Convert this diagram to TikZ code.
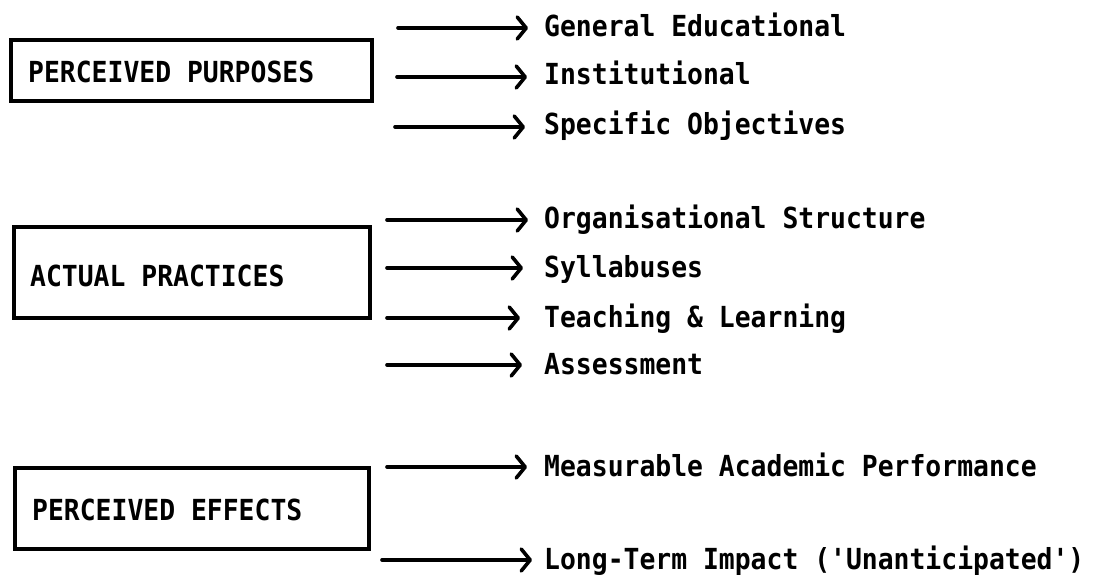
\documentclass[tikz,border=0pt]{standalone}
\usepackage{fontspec}
\setmainfont{DejaVu Sans Mono}[Ligatures=TeXOff,FakeStretch=0.91]
\usetikzlibrary{arrows.meta}
\begin{document}
\begin{tikzpicture}[x=1pt,y=-1pt,
  every node/.style={inner sep=0pt,font=\fontsize{29}{32}\selectfont\bfseries},
  stage/.style={draw,line width=3.6pt,rectangle,anchor=north west},
  item/.style={anchor=base west},
  arr/.style={line width=3.6pt,line cap=round,-{Straight Barb[length=9pt,width=22pt,line cap=round,line join=round]}}]
\useasboundingbox (0,0) rectangle (1093,575);

% boxes on the left
\node[stage,minimum width=361pt,minimum height=61pt] (b1) at (9,38) {};
\node[item] (t1) at (28,83) {PERCEIVED PURPOSES};
\node[stage,minimum width=356pt,minimum height=91pt] (b2) at (12,225) {};
\node[item] (t2) at (30,286) {ACTUAL PRACTICES};
\node[stage,minimum width=354pt,minimum height=81pt] (b3) at (13,466) {};
\node[item] (t3) at (32,520) {PERCEIVED EFFECTS};

% purposes
\node[item] (p1) at (544,37) {General Educational};
\node[item] (p2) at (544,85) {Institutional};
\node[item] (p3) at (544,135) {Specific Objectives};
\coordinate (p1s) at (398,28);  \coordinate (p1e) at (528,28);
\coordinate (p2s) at (397,77);  \coordinate (p2e) at (527,77);
\coordinate (p3s) at (395,127); \coordinate (p3e) at (525,127);

% practices
\node[item] (q1) at (544,229) {Organisational Structure};
\node[item] (q2) at (544,277) {Syllabuses};
\node[item] (q3) at (544,327) {Teaching \& Learning};
\node[item] (q4) at (544,374) {Assessment};
\coordinate (q1s) at (387,220); \coordinate (q1e) at (528,220);
\coordinate (q2s) at (387,268); \coordinate (q2e) at (523,268);
\coordinate (q3s) at (387,318); \coordinate (q3e) at (520,318);
\coordinate (q4s) at (387,365); \coordinate (q4e) at (522,365);

% effects
\node[item] (r1) at (544,476) {Measurable Academic Performance};
\node[item] (r2) at (544,569) {Long-Term Impact ('Unanticipated')};
\coordinate (r1s) at (387,467); \coordinate (r1e) at (527,467);
\coordinate (r2s) at (382,560); \coordinate (r2e) at (532,560);

\foreach \a in {p1,p2,p3,q1,q2,q3,q4,r1,r2}
  \draw[arr] (\a s) -- (\a e);
\end{tikzpicture}
\end{document}
